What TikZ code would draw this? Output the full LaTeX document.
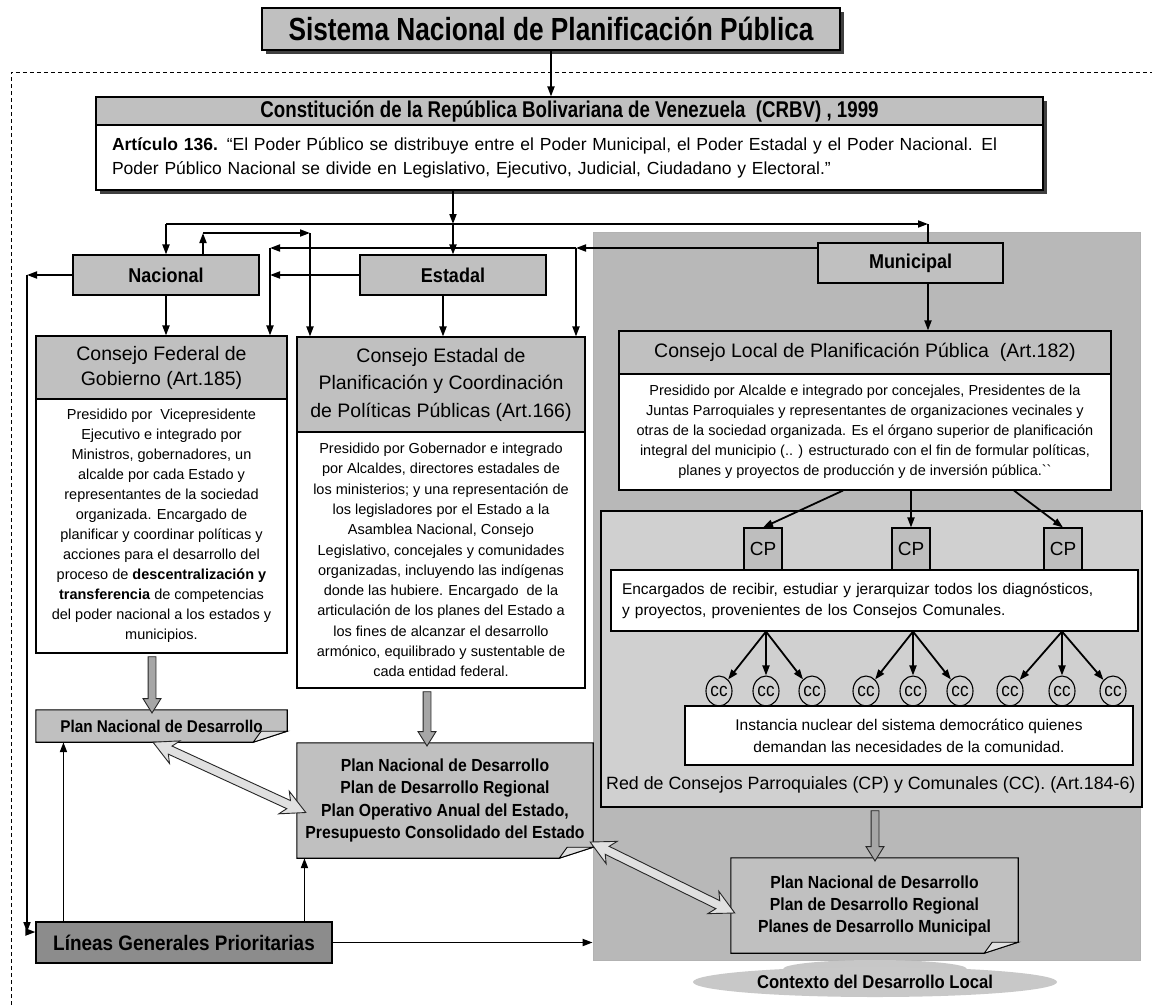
\documentclass[tikz,border=0pt]{standalone}
\usepackage{fontspec}
\setmainfont{Liberation Sans}
\newfontfamily\cond[FakeStretch=0.9]{Liberation Sans}
\newfontfamily\condx[FakeStretch=0.82]{Liberation Sans}
\usetikzlibrary{arrows.meta,calc,shapes.geometric,shapes.arrows}
\pgfdeclarelayer{bgbg}\pgfdeclarelayer{bg}\pgfsetlayers{bgbg,bg,main}
\definecolor{boxgray}{HTML}{C0C0C0}
\definecolor{bggray}{HTML}{B8B8B8}
\definecolor{redfill}{HTML}{D0D0D0}
\definecolor{cpfill}{HTML}{BEBEBE}
\definecolor{lingray}{HTML}{8C8C8C}
\definecolor{ellgray}{HTML}{C8C8C8}
\newcommand\fsz[2]{\fontsize{#1}{#2}\selectfont}
\newcommand\blockarrow[3]{%
  \path let \p1=(#2), \p2=(#3), \n1={atan2(\y2-\y1,\x2-\x1)}, \n2={veclen(\x2-\x1,\y2-\y1)} in
    node[#1, rotate=\n1, minimum height=\n2] at ($(\p1)!.5!(\p2)$) {};}
\tikzset{
  bx/.style 2 args={draw=black, line width=1.1pt, inner sep=0pt, align=center, minimum width=#1, minimum height=#2},
  conn/.style={line width=1.8pt, black},
  blk/.style={single arrow, draw=black!85, fill=black!35, line width=0.9pt, inner xsep=0pt, inner ysep=3.5pt,
     single arrow head extend=5pt, single arrow tip angle=64},
  dblk/.style={double arrow, draw=black!85, fill=black!12, line width=0.9pt, inner xsep=0pt, inner ysep=4pt,
     double arrow head extend=8pt, double arrow tip angle=55, double arrow head indent=5pt},
  planshape/.style={draw=black, line width=1.1pt, fill=boxgray},
  fold/.style={draw=black, line width=0.9pt, fill=black!12},
  ccnode/.style={ellipse, draw=black, line width=1.1pt, fill=redfill, minimum width=26, minimum height=30, inner sep=0pt, font={\cond\fsz{19}{19}}},
}
\begin{document}
\begin{tikzpicture}[x=1pt,y=-1pt,>={Triangle[length=10pt,width=7pt]}]
\useasboundingbox (0,0) rectangle (1152,1005);

% background of the municipal context
\begin{pgfonlayer}{bgbg}
\fill[white] (0,0) rectangle (1152,1005);
\node[draw=black!30, line width=0.8pt, fill=bggray, minimum width=547, minimum height=728, inner sep=0pt] (bg) at (866.5,596) {};
\end{pgfonlayer}

% dashed frame
\draw[line width=0.9pt, dash pattern=on 4pt off 3pt] (11,1005) -- (11,72) -- (1152,72);

% title
\fill[black!75] (266,12) rectangle (844,54);
\node[bx={578}{42}, fill=boxgray, font={\condx\bfseries\fsz{32}{34}}] (title) at (551,29) {Sistema Nacional de Planificación Pública};

% CRBV
\fill[black!75] (100,101) rectangle (1047,194);
\node[bx={947}{28}, fill=boxgray, font={\condx\bfseries\fsz{22.8}{25}}] (crbvh) at (569.5,111) {Constitución de la República Bolivariana de Venezuela~~(CRBV) , 1999};
\node[bx={947}{65}, fill=white, font={\fsz{17.5}{24}}, align=left, text width=915] (crbvb) at (569.5,157.5) {\textbf{Artículo 136.} “El Poder Público se distribuye entre el Poder Municipal, el Poder Estadal y el Poder Nacional. El\\Poder Público Nacional se divide en Legislativo, Ejecutivo, Judicial, Ciudadano y Electoral.”};

% level boxes
\node[bx={186}{40}, fill=boxgray, font={\cond\bfseries\fsz{20}{24}}] (nac) at (166,275) {Nacional};
\node[bx={186}{40}, fill=boxgray, font={\cond\bfseries\fsz{20}{24}}] (est) at (453,275) {Estadal};
\node[bx={185}{40}, fill=boxgray, font={\cond\bfseries\fsz{20}{24}}] (mun) at (910.5,263) {Municipal};

% Consejo Federal
\node[bx={251}{63}, fill=boxgray, font={\fsz{19.5}{25}}] (fedh) at (161.5,367.5) {Consejo Federal de\\ Gobierno (Art.185)};
\node[bx={251}{254}, fill=white, font={\fsz{14.5}{20}}] (fedb) at (161.5,526) {Presidido por~ Vicepresidente\\Ejecutivo e integrado por\\Ministros, gobernadores, un\\alcalde por cada Estado y\\representantes de la sociedad\\organizada. Encargado de\\planificar y coordinar políticas y\\acciones para el desarrollo del\\proceso de \textbf{descentralización y}\\\textbf{transferencia} de competencias\\del poder nacional a los estados y\\municipios.};

% Consejo Estadal
\node[bx={288}{95}, fill=boxgray, font={\fsz{19.5}{27.5}}] (estch) at (441,384.5) {Consejo Estadal de\\Planificación y Coordinación\\de Políticas Públicas (Art.166)};
\node[bx={288}{256}, fill=white, font={\fsz{14.5}{20.3}}] (estcb) at (441,560) {Presidido por Gobernador e integrado\\por Alcaldes, directores estadales de\\los ministerios; y una representación de\\los legisladores por el Estado a la\\Asamblea Nacional, Consejo\\Legislativo, concejales y comunidades\\organizadas, incluyendo las indígenas\\donde las hubiere. Encargado~ de la\\articulación de los planes del Estado a\\los fines de alcanzar el desarrollo\\armónico, equilibrado y sustentable de\\cada entidad federal.};

% Consejo Local
\node[bx={492}{43}, fill=boxgray, font={\fsz{19.5}{24}}] (loch) at (865,352.5) {Consejo Local de Planificación Pública~~(Art.182)};
\node[bx={492}{116}, fill=white, font={\fsz{14.5}{20}}] (locb) at (865,432) {Presidido por Alcalde e integrado por concejales, Presidentes de la\\Juntas Parroquiales y representantes de organizaciones vecinales y\\otras de la sociedad organizada. Es el órgano superior de planificación\\integral del municipio (.. ) estructurado con el fin de formular políticas,\\planes y proyectos de producción y de inversión pública.\textasciigrave\textasciigrave};

% Red de consejos
\node[draw=black, line width=1.1pt, fill=redfill, minimum width=541, minimum height=296, inner sep=0pt] (red) at (871.5,659) {};
\node[anchor=west, inner sep=0pt, font={\fsz{17.8}{20}}] (redlbl) at (606,785) {Red de Consejos Parroquiales (CP) y Comunales (CC). (Art.184-6)};
\node[bx={38}{42}, fill=cpfill, font={\fsz{19}{20}}] (cp1) at (763,549) {CP};
\node[bx={38}{42}, fill=cpfill, font={\fsz{19}{20}}] (cp2) at (911,549) {CP};
\node[bx={38}{42}, fill=cpfill, font={\fsz{19}{20}}] (cp3) at (1063,549) {CP};
\node[bx={527}{61}, fill=white, font={\fsz{15.5}{21}}, align=left, text width=505] (enc) at (874.5,600.5) {Encargados de recibir, estudiar y jerarquizar todos los diagnósticos,\\y proyectos, provenientes de los Consejos Comunales.};
\node[ccnode] (cc1) at (719,691) {cc};
\node[ccnode] (cc2) at (766,691) {cc};
\node[ccnode] (cc3) at (812,691) {cc};
\node[ccnode] (cc4) at (866,691) {cc};
\node[ccnode] (cc5) at (913,691) {cc};
\node[ccnode] (cc6) at (960,691) {cc};
\node[ccnode] (cc7) at (1010,691) {cc};
\node[ccnode] (cc8) at (1062,691) {cc};
\node[ccnode] (cc9) at (1113,691) {cc};
\node[bx={448}{59}, fill=white, font={\fsz{15.5}{22}}] (inst) at (909,735.5) {Instancia nuclear del sistema democrático quienes\\demandan las necesidades de la comunidad.};

% plans
\node[inner sep=0pt, minimum width=251, minimum height=32, align=center, font={\cond\bfseries\fsz{17}{20}}] (planL) at (161.5,726) {Plan Nacional de Desarrollo};
\node[inner sep=0pt, minimum width=296, minimum height=115, align=center, font={\cond\bfseries\fsz{17.5}{22.5}}] (planM) at (445,800.5) {Plan Nacional de Desarrollo\\Plan de Desarrollo Regional\\Plan Operativo Anual del Estado,\\Presupuesto Consolidado del Estado};
\node[inner sep=0pt, minimum width=287, minimum height=95, align=center, font={\cond\bfseries\fsz{17.5}{22}}] (planR) at (874.5,905.5) {Plan Nacional de Desarrollo\\Plan de Desarrollo Regional\\Planes de Desarrollo Municipal};
\begin{pgfonlayer}{bg}
\foreach \p in {planL,planM,planR}{
  \draw[planshape] (\p.north west) -- (\p.north east) -- ($(\p.south east)+(0,-11)$) -- ($(\p.south east)+(-34,0)$) -- (\p.south west) -- cycle;
}
\end{pgfonlayer}
\foreach \p in {planL,planM,planR}{
  \draw[fold] ($(\p.south east)+(-34,0)$) -- ($(\p.south east)+(-26,-11)$) -- ($(\p.south east)+(0,-11)$) -- cycle;
}
\node[bx={296}{41}, fill=lingray, font={\cond\bfseries\fsz{21}{24}}] (lin) at (184,942.5) {Líneas Generales Prioritarias};

% context ellipse
\fill[black!22] (875,969) ellipse [x radius=92, y radius=9];
\node[ellipse, fill=ellgray, minimum width=364, minimum height=30, inner sep=0pt, font={\cond\bfseries\fsz{18.5}{20}}] (ctx) at (875,982) {Contexto del Desarrollo Local};

% ---------------- connectors
\draw[conn,->] (title.south) -- (title.south |- crbvh.north);
\coordinate (ja) at (166,224);
\coordinate (jb) at (928,224);
\coordinate (jc) at (453,224);
\draw[conn,->] (ja) -- (jb);
\draw[conn] (jb) -- (jb |- mun.north);
\draw[conn,->] (ja) -- (nac.north);
\draw[conn,->] (jc |- crbvb.south) -- (jc);
\draw[conn,->] (jc) -- (est.north);
\coordinate (jd) at (203,233);
\coordinate (je) at (310,233);
\draw[conn,->] (jd |- nac.north) -- (jd);
\draw[conn,->] (jd) -- (je);
\draw[conn,->] (je) -- (je |- estch.north);
\coordinate (jf) at (576,248);
\coordinate (jg) at (270,248);
\draw[conn,->] (mun.west |- jf) -- (jf);
\draw[conn,->] (jf) -- (jg);
\draw[conn,->] (jg) -- (jg |- fedh.north);
\draw[conn,->] (jf) -- (jf |- estch.north);
\draw[conn,->] (est.west) -- (est.west -| jg);
\coordinate (jh) at (27,275);
\coordinate (ji) at (27,932);
\draw[conn,->] (nac.west) -- (jh);
\draw[conn,->] (jh) -- (ji);
\draw[conn,->] (ji) -- (ji -| lin.west);
\draw[conn,->] (nac.south) -- (nac.south |- fedh.north);
\coordinate (jk) at ($(est.south)+(-10,0)$);
\draw[conn,->] (jk) -- (jk |- estch.north);
\draw[conn,->] (jb |- mun.south) -- (jb |- loch.north);
\coordinate (l1) at ($(locb.south)+(-22,0)$);
\coordinate (l2) at ($(locb.south)+(46,0)$);
\coordinate (l3) at ($(locb.south)+(149,0)$);
\draw[conn,->] (l1) -- (cp1.north);
\draw[conn,->] (l2) -- (cp2.north);
\draw[conn,->] (l3) -- (cp3.north);
\coordinate (g1) at ($(enc.south)+(-108.5,0)$);
\coordinate (g2) at ($(enc.south)+(38.5,0)$);
\coordinate (g3) at ($(enc.south)+(187.5,0)$);
\foreach \c in {cc1,cc2,cc3}{\draw[conn,->] (g1) -- (\c);}
\foreach \c in {cc4,cc5,cc6}{\draw[conn,->] (g2) -- (\c);}
\foreach \c in {cc7,cc8,cc9}{\draw[conn,->] (g3) -- (\c);}
\coordinate (k1) at ($(lin.north west)+(28,0)$);
\coordinate (k2) at ($(lin.north west)+(269,0)$);
\draw[conn,->] (k1) -- (k1 |- planL.south);
\draw[conn,->] (k2) -- (k2 |- planM.south);
\draw[conn,->] (lin.east) -- (lin.east -| bg.west);

% block arrows
\coordinate (b1s) at ($(fedb.south)+(-9.5,0)$);
\coordinate (b1e) at (b1s |- planL.north);
\blockarrow{blk}{b1s}{b1e}
\coordinate (b2s) at ($(estcb.south)+(-14,0)$);
\coordinate (b2e) at (b2s |- planM.north);
\blockarrow{blk}{b2s}{b2e}
\coordinate (b3s) at ($(red.south)+(3.5,0)$);
\coordinate (b3e) at (b3s |- planR.north);
\blockarrow{blk}{b3s}{b3e}
\coordinate (d1s) at ($(planL.south)+(-8.5,0)$);
\coordinate (d1e) at ($(planM.west)+(9,12)$);
\blockarrow{dblk}{d1s}{d1e}
\coordinate (d2s) at ($(planM.east)+(-3,41.5)$);
\coordinate (d2e) at ($(planR.west)+(4,7.5)$);
\blockarrow{dblk}{d2s}{d2e}
\end{tikzpicture}
\end{document}
